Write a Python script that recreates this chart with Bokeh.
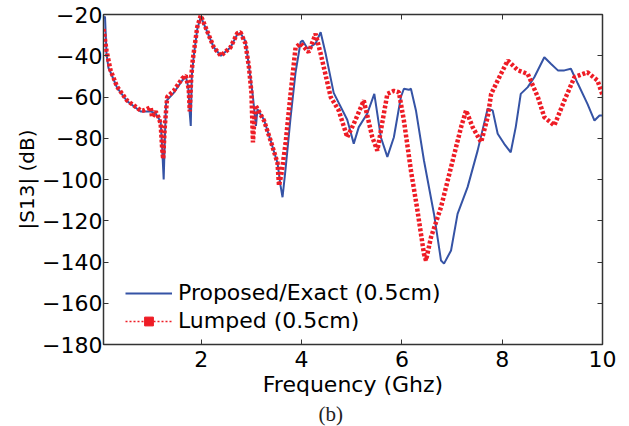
from bokeh.plotting import figure
from bokeh.models import Range1d, LinearAxis, Legend, LegendItem, Title, FixedTicker
from bokeh.embed import file_html
from bokeh.resources import INLINE

# ---- data ----
exact_f = [0.05, 0.08, 0.11, 0.15, 0.19, 0.32, 0.52, 0.79, 0.99, 1.09, 1.19, 1.22, 1.25, 1.28,
           1.30, 1.45, 1.62, 1.69, 1.74, 1.77, 1.79, 1.81, 1.85, 1.92, 1.99, 2.25, 2.39, 2.58,
           2.72, 2.78, 2.88, 2.95, 3.03, 3.09, 3.12, 3.25, 3.38, 3.52, 3.58, 3.62, 3.68, 3.78,
           3.88, 3.98, 4.02, 4.12, 4.28, 4.38, 4.48, 4.64, 4.91, 5.04, 5.14, 5.31, 5.45, 5.58,
           5.71, 5.84, 5.98, 6.04, 6.14, 6.18, 6.28, 6.44, 6.64, 6.78, 6.84, 6.98, 7.11, 7.31,
           7.51, 7.71, 7.81, 7.91, 8.04, 8.17, 8.27, 8.37, 8.51, 8.64, 8.84, 8.97, 9.11, 9.24,
           9.37, 9.51, 9.70, 9.84, 9.94, 10.0]
exact_db = [-22, -21, -39, -46, -48, -55.5, -62, -67, -67, -68, -72, -85, -100, -75,
            -62, -58, -52, -50, -55, -68, -74, -50, -40, -27, -21, -36, -40, -36,
            -29.5, -29, -33, -45, -60, -74, -66, -71, -81, -92, -103, -108.6, -95, -70,
            -48, -33.4, -32.6, -36.6, -34, -28.6, -39, -58, -71, -82.6, -74.6, -68, -58.5, -79.5,
            -89, -79.5, -60, -56, -56.5, -56, -66.5, -90.8, -116.7, -139.3, -140.8, -134.4, -116.7, -103.7,
            -86, -65.7, -66.5, -77.8, -82.7, -86.8, -74.6, -58.5, -55.2, -50.4, -40.7, -43.9, -47.1, -47.1,
            -46.3, -53.6, -63.3, -71.4, -69, -69]

lumped_f = [0.05, 0.11, 0.19, 0.32, 0.52, 0.79, 0.85, 0.99, 1.02, 1.09, 1.15, 1.19, 1.22, 1.24,
            1.27, 1.32, 1.45, 1.62, 1.69, 1.75, 1.77, 1.80, 1.83, 1.92, 1.99, 2.25, 2.39, 2.58,
            2.72, 2.78, 2.88, 2.95, 3.00, 3.03, 3.06, 3.08, 3.25, 3.38, 3.52, 3.55, 3.60, 3.68,
            3.78, 3.88, 3.98, 4.14, 4.28, 4.38, 4.58, 4.74, 4.91, 5.04, 5.24, 5.41, 5.51, 5.71,
            5.84, 5.94, 6.04, 6.18, 6.31, 6.44, 6.48, 6.58, 6.78, 6.98, 7.18, 7.28, 7.41, 7.58,
            7.71, 7.78, 7.91, 8.11, 8.31, 8.51, 8.71, 8.84, 9.04, 9.24, 9.44, 9.70, 9.90, 10.0]
lumped_db = [-27, -37.5, -47, -55, -61.7, -66.5, -66.5, -65, -69.8, -67, -70, -73, -85, -90,
             -75, -60, -57, -51, -49.6, -56, -67, -50, -42, -26, -20.5, -36, -40, -36,
             -29, -28.6, -34, -45.5, -58, -82, -70, -64, -71.4, -81, -92, -103, -97, -82.6,
             -58.5, -36, -34, -38.3, -29.4, -39, -60, -66.5, -79.5, -73, -61.7, -79.5, -86, -58.5,
             -57, -57.7, -71.4, -95.6, -115, -136, -139.3, -128, -113.4, -94, -74.6, -66.5, -74.6, -81.9,
             -69.8, -58.5, -52, -42.3, -47, -48.8, -60, -69.8, -73.8, -61.7, -50.4, -48, -52, -59]

x_ticks = [2, 4, 6, 8, 10]
y_ticks = [-180, -160, -140, -120, -100, -80, -60, -40, -20]

BLUE = "#3553a5"
RED = "#ee1c25"
FONT = "DejaVu Sans"

p = figure(width=629, height=426, output_backend="svg", toolbar_location=None,
           x_range=Range1d(0.05, 10), y_range=Range1d(-180, -20),
           min_border_left=103, min_border_right=27, min_border_top=14, min_border_bottom=82)
p.background_fill_color = "white"
p.border_fill_color = "white"
p.grid.visible = False
p.outline_line_color = "#333333"
p.outline_line_width = 1.5

r_exact = p.line(exact_f, exact_db, line_color=BLUE, line_width=2)
r_lump = p.line(lumped_f, lumped_db, line_color=RED, line_width=4.5, line_dash="3 2")

# legend-only glyphs (placed outside the visible range)
leg_line = p.line([-50, -40], [-300, -300], line_color=RED, line_width=1.5, line_dash="2 2")
leg_sq = p.scatter([-45], [-300], marker="square", size=5, fill_color=RED, line_color=RED)

for ax in (p.xaxis[0], p.yaxis[0]):
    ax.major_tick_in = 5
    ax.major_tick_out = 0
    ax.minor_tick_in = 0
    ax.minor_tick_out = 0
    ax.axis_line_color = "#333333"
    ax.major_tick_line_color = "#333333"
    ax.major_label_text_font = FONT
    ax.major_label_text_font_size = "22px"
    ax.major_label_text_color = "black"
    ax.axis_label_text_font = FONT
    ax.axis_label_text_font_size = "22px"
    ax.axis_label_text_font_style = "normal"
    ax.axis_label_text_color = "black"

p.xaxis[0].ticker = FixedTicker(ticks=x_ticks)
p.yaxis[0].ticker = FixedTicker(ticks=y_ticks)
p.xaxis[0].axis_label = "Frequency (Ghz)"
p.yaxis[0].axis_label = "|S13| (dB)"
p.yaxis[0].axis_label_text_font_size = "20px"
p.xaxis[0].axis_label_standoff = 2
p.yaxis[0].axis_label_standoff = 0
p.xaxis[0].major_label_standoff = 6
p.yaxis[0].major_label_standoff = 1

top = LinearAxis(ticker=FixedTicker(ticks=x_ticks),
                 major_label_overrides={t: "" for t in x_ticks},
                 major_tick_in=5, major_tick_out=0, minor_tick_in=0, minor_tick_out=0,
                 axis_line_color="#333333", major_tick_line_color="#333333")
right = LinearAxis(ticker=FixedTicker(ticks=y_ticks),
                   major_label_overrides={t: "" for t in y_ticks},
                   major_tick_in=5, major_tick_out=0, minor_tick_in=0, minor_tick_out=0,
                   axis_line_color="#333333", major_tick_line_color="#333333")
p.add_layout(top, "above")
p.add_layout(right, "right")

legend = Legend(items=[LegendItem(label="Proposed/Exact (0.5cm)", renderers=[r_exact]),
                       LegendItem(label="Lumped (0.5cm)", renderers=[leg_line, leg_sq])],
                location=(22, 11), margin=0, padding=0, spacing=3,
                glyph_width=47, glyph_height=22, label_height=22, label_standoff=6,
                label_text_font=FONT, label_text_font_size="22px", label_text_color="black",
                border_line_color=None, background_fill_alpha=0)
p.add_layout(legend, "center")

p.add_layout(Title(text="(b)", align="left", offset=215, standoff=0,
                   text_font="Liberation Serif", text_font_size="21px",
                   text_font_style="normal", text_color="#222222"), "below")

open("out.html", "w").write(file_html(p, INLINE))
